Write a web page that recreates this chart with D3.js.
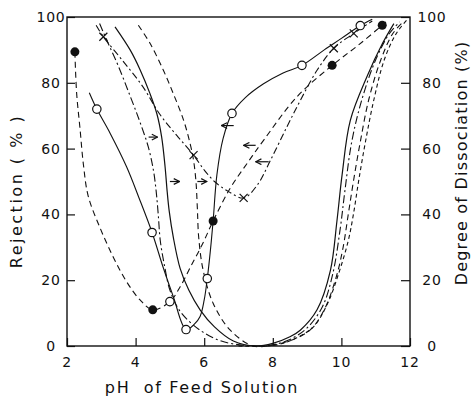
<!DOCTYPE html>
<html>
<head>
<meta charset="utf-8">
<script src="https://cdn.jsdelivr.net/npm/d3@7"></script>
<style>
  body { margin: 0; background: #fff; }
  text { font-family: "DejaVu Sans", sans-serif; fill: #111; }
</style>
</head>
<body>
<div id="chart-area"></div>
<script>
var xTicks = [2, 4, 6, 8, 10, 12];
var yTicks = [0, 20, 40, 60, 80, 100];

// rejection, filled circles (dashed line)
var filledPts = [[2.23, 89.4], [4.5, 11], [6.26, 38], [9.73, 85.3], [11.19, 97.5]];
var filledLine = [[2.23, 89.4], [2.28, 77], [2.38, 66], [2.48, 55], [2.62, 45.5], [2.96, 36],
  [3.35, 27], [3.74, 19.5], [4.13, 14], [4.5, 11], [5.0, 13.5], [5.3, 18], [5.6, 24],
  [5.95, 31], [6.26, 38], [6.76, 48], [7.25, 55.5], [7.73, 62.5], [8.7, 75.7],
  [9.73, 85.3], [10.5, 91.5], [11.19, 97.5], [11.3, 98.5]];

// rejection, open circles (solid line)
var openPts = [[2.87, 72], [4.48, 34.5], [5.47, 5], [6.09, 20.5], [6.81, 70.7], [8.85, 85.3], [10.55, 97.4]];
var openExtra = [[5.0, 13.5]];
var openLine = [[2.65, 77], [2.87, 72], [3.26, 64.6], [3.74, 54.4], [4.1, 45], [4.48, 34.5],
  [4.8, 24], [5.1, 15], [5.47, 5], [5.7, 6.5], [5.88, 9], [6.0, 14], [6.09, 20.5],
  [6.18, 29], [6.26, 38], [6.37, 52], [6.55, 63], [6.81, 70.7], [7.2, 75.5], [7.73, 79.7],
  [8.3, 83], [8.85, 85.3], [9.5, 90], [10.0, 93.5], [10.55, 97.4], [10.9, 99.3]];

// rejection, crosses (dash-dot line)
var crossPts = [[3.06, 94], [5.69, 58], [7.15, 45], [9.78, 90.5], [10.36, 95]];
var crossLine = [[2.85, 97.5], [3.06, 94], [3.6, 87], [4.2, 79], [4.7, 70.5], [5.2, 64],
  [5.69, 58], [6.0, 53.5], [6.3, 50], [6.7, 47], [7.15, 45], [7.54, 48.8], [7.93, 56.4],
  [8.41, 66.6], [8.8, 74.6], [9.29, 83.8], [9.78, 90.5], [10.36, 95], [10.9, 98.8]];

// degree of dissociation curves (right axis)
var dissDashDot = [[2.95, 98], [3.2, 92], [3.5, 85], [3.84, 76], [4.13, 68], [4.37, 60.5],
  [4.52, 53.4], [4.6, 47], [4.66, 40], [4.72, 32], [4.85, 24], [5.0, 17], [5.3, 10.5],
  [5.88, 4.8], [6.5, 1.5], [7.2, 0.2], [7.9, 0.2], [8.5, 2], [9.0, 5.5], [9.45, 12],
  [9.75, 22], [9.97, 36], [10.1, 47], [10.3, 62], [10.6, 75], [11.0, 87], [11.4, 95], [11.7, 98.5]];
var dissSolid = [[3.4, 97], [3.84, 90], [4.13, 84], [4.42, 76.7], [4.62, 70.6], [4.76, 63.5],
  [4.86, 54.4], [4.92, 47], [4.98, 41], [5.1, 33], [5.3, 23.5], [5.55, 17], [5.88, 11],
  [6.3, 5.8], [6.85, 1.5], [7.5, 0], [8.0, 0.8], [8.5, 2.8], [8.8, 4.8], [9.29, 11],
  [9.68, 23], [9.87, 38], [10.02, 52], [10.26, 68.6], [10.75, 82], [11.2, 92], [11.53, 98]];
var dissDashed = [[4.08, 97.5], [4.42, 92], [4.81, 83.8], [5.1, 76.7], [5.4, 68.6], [5.59, 61.5],
  [5.69, 56.4], [5.76, 50], [5.8, 42], [5.84, 33], [5.97, 23], [6.26, 13], [6.76, 4.8],
  [7.43, 0], [8.0, 0.3], [8.6, 2], [9.1, 5], [9.5, 11], [9.85, 21], [10.05, 30], [10.2, 40],
  [10.35, 50], [10.55, 62], [10.8, 75], [11.15, 87], [11.5, 95], [11.8, 98.5]];
var dissShort = [[7.0, 0], [8.1, 0.3], [8.7, 2.5], [9.2, 6], [9.6, 13], [9.95, 23], [10.2, 32],
  [10.35, 40], [10.5, 50], [10.7, 62], [10.95, 75], [11.25, 87], [11.6, 95], [11.9, 99]];

// arrows: [from x, to x, y]
var arrowsRight = [[4.38, 4.64, 63.5], [5.0, 5.28, 50], [5.8, 6.08, 50]];
var arrowsLeft = [[6.86, 6.5, 67], [7.5, 7.15, 61], [7.88, 7.5, 56]];

var margin = { left: 67, right: 62, top: 17, bottom: 52 };
var width = 472 - margin.left - margin.right;
var height = 398 - margin.top - margin.bottom;

var x = d3.scaleLinear().domain([2, 12]).range([0, width]);
var y = d3.scaleLinear().domain([0, 100]).range([height, 0]);

var svg = d3.select("#chart-area")
  .append("svg")
  .attr("width", 472)
  .attr("height", 398);

svg.append("defs").append("marker")
  .attr("id", "head")
  .attr("viewBox", "0 0 10 10")
  .attr("refX", 9)
  .attr("refY", 5)
  .attr("markerWidth", 6)
  .attr("markerHeight", 6)
  .attr("orient", "auto")
  .append("path")
  .attr("d", "M1,1 L9,5 L1,9")
  .attr("fill", "none")
  .attr("stroke", "#111")
  .attr("stroke-width", 1.6);

var g = svg.append("g")
  .attr("transform", "translate(" + margin.left + "," + margin.top + ")");

var line = d3.line()
  .x(function(d) { return x(d[0]); })
  .y(function(d) { return y(d[1]); })
  .curve(d3.curveCatmullRom.alpha(0.5));

function drawCurve(data, dash, w) {
  g.append("path")
    .datum(data)
    .attr("d", line)
    .attr("fill", "none")
    .attr("stroke", "#111")
    .attr("stroke-width", w || 1.1)
    .attr("stroke-dasharray", dash);
}

drawCurve(dissDashDot, "8,3,2,3");
drawCurve(dissSolid, null, 1.2);
drawCurve(dissDashed, "6,4");
drawCurve(dissShort, "4,3");
drawCurve(filledLine, "6,4");
drawCurve(openLine, null, 1.1);
drawCurve(crossLine, "7,3,2,3");

// axes: ticks inward
var xAxis = d3.axisBottom(x).tickValues(xTicks).tickSize(-8).tickFormat("");
var yAxis = d3.axisLeft(y).tickValues(yTicks).tickSize(-8).tickFormat("");
var yAxisR = d3.axisRight(y).tickValues(yTicks).tickSize(-9).tickFormat("");

g.append("g").attr("transform", "translate(0," + height + ")").call(xAxis);
g.append("g").call(yAxis);
g.append("g").attr("transform", "translate(" + width + ",0)").call(yAxisR);
g.selectAll(".domain").remove();
g.selectAll(".tick line").attr("stroke", "#111").attr("stroke-width", 1.2);

g.append("rect")
  .attr("width", width)
  .attr("height", height)
  .attr("fill", "none")
  .attr("stroke", "#111")
  .attr("stroke-width", 1.4);

// tick labels
g.selectAll(".xlab")
  .data(xTicks)
  .enter()
  .append("text")
  .attr("x", function(d) { return x(d); })
  .attr("y", height + 21)
  .attr("text-anchor", "middle")
  .attr("font-size", "14px")
  .attr("letter-spacing", "0.8px")
  .text(function(d) { return d; });

g.selectAll(".ylab")
  .data(yTicks)
  .enter()
  .append("text")
  .attr("x", -16)
  .attr("y", function(d) { return y(d); })
  .attr("dy", "0.36em")
  .attr("text-anchor", "middle")
  .attr("font-size", "14px")
  .attr("letter-spacing", "0.8px")
  .text(function(d) { return d; });

g.selectAll(".yrlab")
  .data(yTicks)
  .enter()
  .append("text")
  .attr("x", width + 22)
  .attr("y", function(d) { return y(d); })
  .attr("dy", "0.36em")
  .attr("text-anchor", "middle")
  .attr("font-size", "14px")
  .attr("letter-spacing", "0.8px")
  .text(function(d) { return d; });

// axis titles
svg.append("text")
  .attr("x", 202)
  .attr("y", 393)
  .attr("text-anchor", "middle")
  .attr("font-size", "16px")
  .attr("letter-spacing", "1.65px")
  .attr("xml:space", "preserve")
  .text("pH  of Feed Solution");

svg.append("text")
  .attr("transform", "translate(22,191) rotate(-90)")
  .attr("text-anchor", "middle")
  .attr("font-size", "16px")
  .attr("letter-spacing", "2.5px")
  .attr("xml:space", "preserve")
  .text("Rejection ( % )");

svg.append("text")
  .attr("transform", "translate(467,163) rotate(-90)")
  .attr("text-anchor", "middle")
  .attr("font-size", "16px")
  .attr("letter-spacing", "1.2px")
  .text("Degree of Dissociation (%)");

// markers
g.selectAll(".filled")
  .data(filledPts)
  .enter()
  .append("circle")
  .attr("cx", function(d) { return x(d[0]); })
  .attr("cy", function(d) { return y(d[1]); })
  .attr("r", 4.5)
  .attr("fill", "#111");

g.selectAll(".open")
  .data(openPts.concat(openExtra))
  .enter()
  .append("circle")
  .attr("cx", function(d) { return x(d[0]); })
  .attr("cy", function(d) { return y(d[1]); })
  .attr("r", 4.2)
  .attr("fill", "#fff")
  .attr("stroke", "#111")
  .attr("stroke-width", 1.2);

g.selectAll(".cross")
  .data(crossPts)
  .enter()
  .append("path")
  .attr("transform", function(d) { return "translate(" + x(d[0]) + "," + y(d[1]) + ")"; })
  .attr("d", "M-4,-4L4,4M-4,4L4,-4")
  .attr("stroke", "#111")
  .attr("stroke-width", 1.2);

// arrows
g.selectAll(".arrow")
  .data(arrowsRight.concat(arrowsLeft))
  .enter()
  .append("line")
  .attr("x1", function(d) { return x(d[0]); })
  .attr("x2", function(d) { return x(d[1]); })
  .attr("y1", function(d) { return y(d[2]); })
  .attr("y2", function(d) { return y(d[2]); })
  .attr("stroke", "#111")
  .attr("stroke-width", 1.2)
  .attr("marker-end", "url(#head)");
</script>
</body>
</html>
